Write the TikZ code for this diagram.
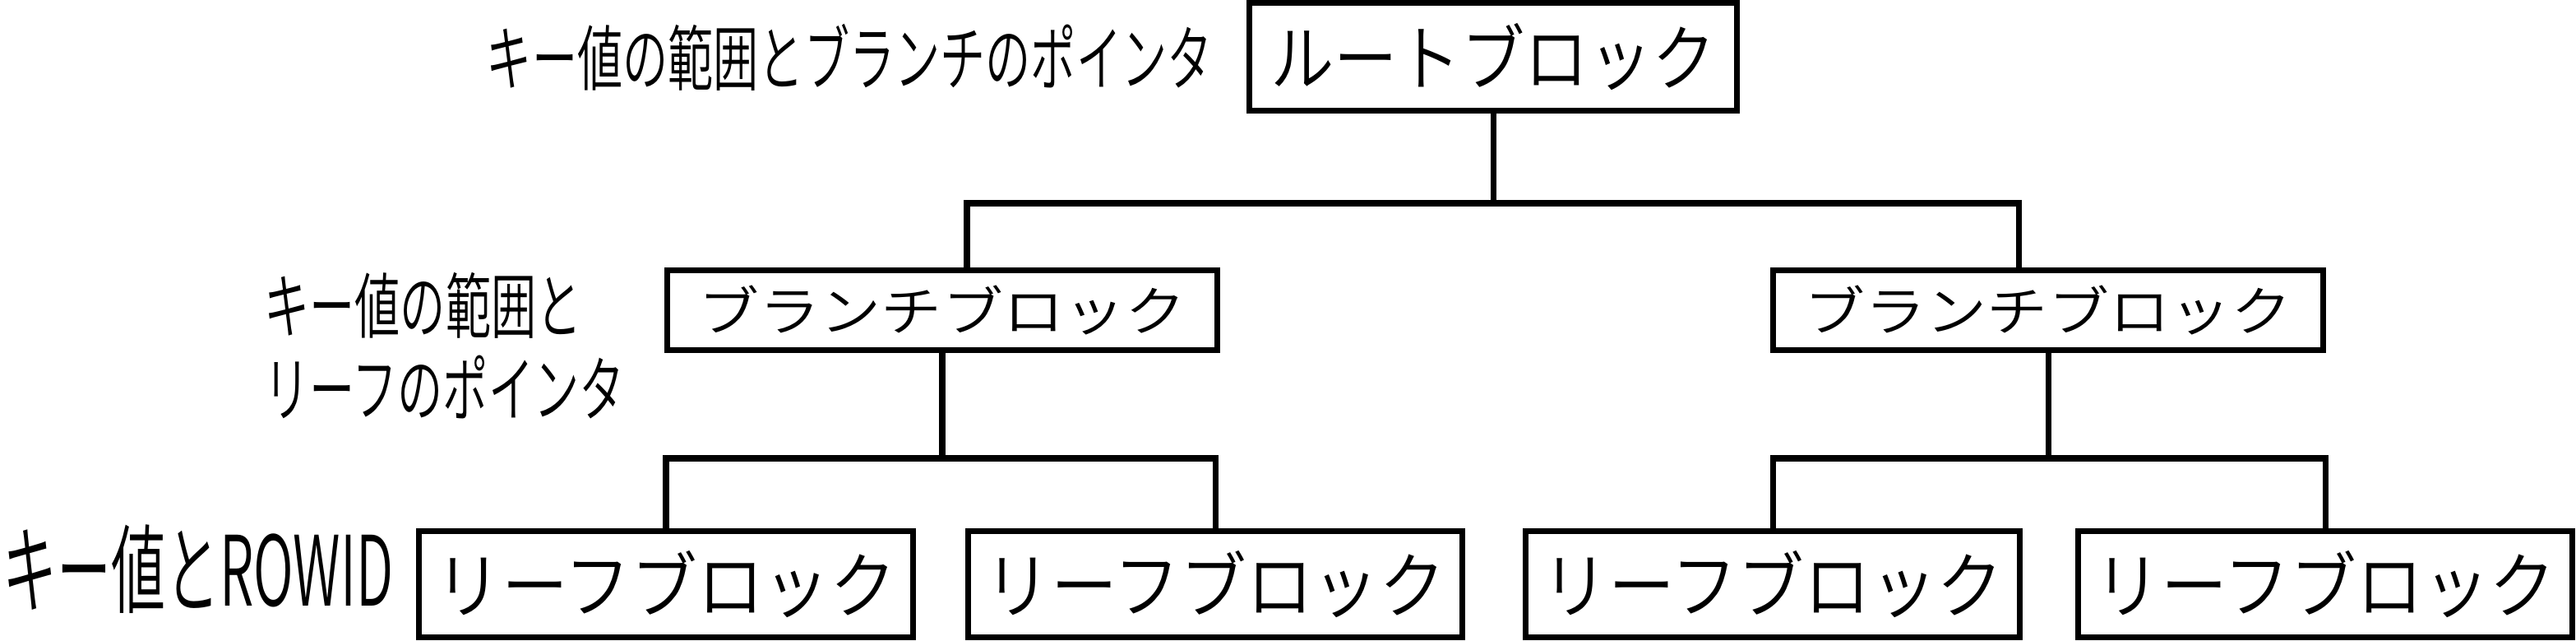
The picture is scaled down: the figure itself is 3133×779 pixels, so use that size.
\documentclass[tikz,border=0pt]{standalone}
\usepackage{fontspec}
\newfontfamily\jproot[FakeStretch=0.88]{Noto Sans CJK JP DemiLight}
\newfontfamily\jpleaf[FakeStretch=0.92]{Noto Sans CJK JP DemiLight}
\newfontfamily\jpbranch[FakeStretch=1.14]{Noto Sans CJK JP DemiLight}
\newfontfamily\jpnote[FakeStretch=0.635]{Noto Sans CJK JP DemiLight}
\newfontfamily\jprowid[FakeStretch=0.56]{Noto Sans CJK JP DemiLight}
\usetikzlibrary{positioning}

\tikzset{
  block/.style={draw, line width=2pt, inner sep=0pt},
  rootblock/.style={block, minimum width=5.93cm, minimum height=1.30cm, font=\jproot\fontsize{25}{30}\selectfont},
  branchblock/.style={block, minimum width=6.68cm, minimum height=0.96cm, font=\jpbranch\fontsize{18.5}{22}\selectfont},
  leafblock/.style={block, minimum width=6.00cm, minimum height=1.29cm, font=\jpleaf\fontsize{25}{30}\selectfont},
  note/.style={inner sep=0pt, align=left, font=\jpnote\fontsize{24.7}{28.7}\selectfont}
}

\begin{document}
\begin{tikzpicture}[x=0.01cm,y=-0.01cm,line width=2pt]
\useasboundingbox (0,0) rectangle (3133,779);
%blocks
\node[rootblock] (root) at (1816,69) {ルートブロック};
\node[branchblock] (lbranch) at (1146,377) {ブランチブロック};
\node[branchblock] (rbranch) at (2491,377) {ブランチブロック};
\node[leafblock] (leaf1) at (810,710) {リーフブロック};
\node[leafblock] (leaf2) at (1478,710) {リーフブロック};
\node[leafblock] (leaf3) at (2156,710) {リーフブロック};
\node[leafblock] (leaf4) at (2828,710) {リーフブロック};
%notes on the left
\node[note,anchor=east] (rootnote) at (1478,70) {キー値の範囲とブランチのポインタ};
\node[note,anchor=west] (branchnote) at (318,420) {キー値の範囲と\\リーフのポインタ};
\node[note,anchor=west,font=\jprowid\fontsize{33.5}{40}\selectfont] (leafnote) at (0,692) {キー値とROWID};
%root to branches
\coordinate (rl) at (1176,247);
\coordinate (rr) at (2455,247);
\draw (root.south) -- (root.south |- rl);
\draw (lbranch.north -| rl) |- (rr) -- (rr |- rbranch.north);
%branches to leaves
\coordinate (lj) at (1146,557);
\coordinate (rj) at (2491,557);
\draw (lbranch.south) -- (lj);
\draw (leaf1.north) |- (lj) -| (leaf2.north);
\draw (rbranch.south) -- (rj);
\draw (leaf3.north) |- (rj) -| (leaf4.north);
\end{tikzpicture}
\end{document}
